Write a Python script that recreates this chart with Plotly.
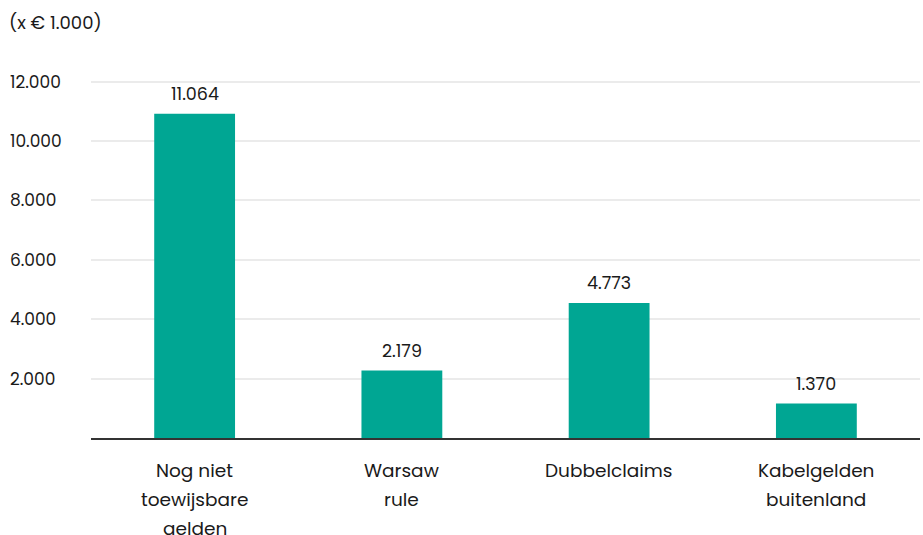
import plotly.graph_objects as go

categories = ["Nog niet toewijsbare gelden", "Warsaw rule", "Dubbelclaims", "Kabelgelden buitenland"]
category_lines = [["Nog niet", "toewijsbare", "gelden"], ["Warsaw", "rule"], ["Dubbelclaims"], ["Kabelgelden", "buitenland"]]
bar_heights = [10920, 2270, 4550, 1160]
value_labels = ["11.064", "2.179", "4.773", "1.370"]
tick_values = [2000, 4000, 6000, 8000, 10000, 12000]
tick_labels = ["2.000", "4.000", "6.000", "8.000", "10.000", "12.000"]
unit_title = "(x € 1.000)"

FONT = "Poppins, Inter, Lato, sans-serif"
TXT = "#1a1a1a"
BAR = "#00a693"

fig = go.Figure()
fig.add_trace(go.Bar(x=categories, y=bar_heights, marker=dict(color=BAR, line=dict(width=0)),
                     hoverinfo="skip"))

annotations = []
for c, h, t in zip(categories, bar_heights, value_labels):
    annotations.append(dict(x=c, y=h, xref="x", yref="y", text=t, showarrow=False,
                            yanchor="bottom", yshift=6, font=dict(family=FONT, size=17.5, color=TXT)))
for c, lines in zip(categories, category_lines):
    for i, line in enumerate(lines):
        annotations.append(dict(x=c, y=0, xref="x", yref="paper", text=line, showarrow=False,
                                yanchor="middle", yshift=-32 - 29 * i,
                                font=dict(family=FONT, size=18.5, color=TXT)))
annotations.append(dict(x=0, y=1, xref="paper", yref="paper", text=unit_title, showarrow=False,
                        xanchor="left", yanchor="middle", xshift=1, yshift=30,
                        font=dict(family=FONT, size=18, color=TXT)))

fig.update_layout(
    width=923, height=535,
    margin=dict(l=6, r=3, t=52, b=97),
    paper_bgcolor="white", plot_bgcolor="white",
    showlegend=False, bargap=0.61,
    font=dict(family=FONT, size=16, color=TXT),
    xaxis=dict(domain=[0.093, 1.0], range=[-0.5, 3.5], showticklabels=False, ticks="",
               showline=True, linecolor="#333333", linewidth=1.5, showgrid=False, zeroline=False),
    yaxis=dict(range=[0, 13000], tickvals=tick_values, ticktext=tick_labels,
               anchor="free", position=0, ticklabelposition="inside", ticks="",
               showline=False, showgrid=True, gridcolor="#ebebeb", gridwidth=1.5, zeroline=False,
               tickfont=dict(family=FONT, size=17, color=TXT)),
    annotations=annotations,
)

fig.write_html("out.html", config={"displayModeBar": False},
               post_script="document.body.style.margin='0';")
